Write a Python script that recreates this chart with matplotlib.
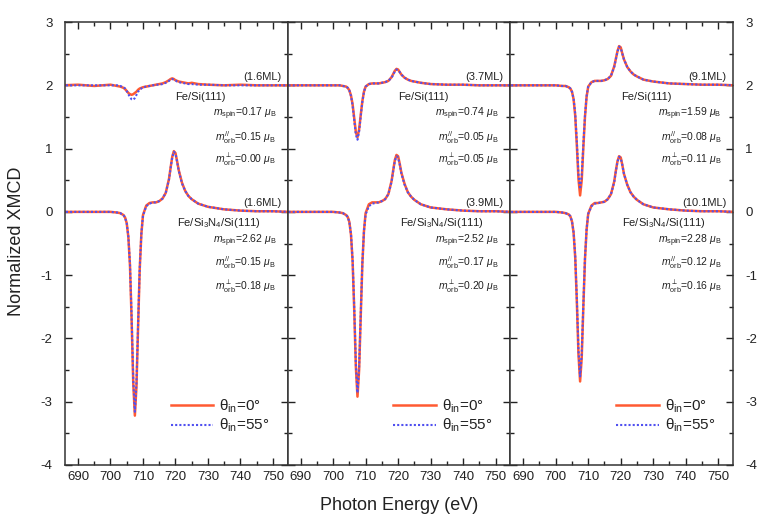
import matplotlib
matplotlib.use("Agg")
import matplotlib.pyplot as plt
from matplotlib.ticker import MultipleLocator

plt.rcParams['font.family'] = ['Liberation Sans Narrow', 'Liberation Sans', 'DejaVu Sans']
plt.rcParams['mathtext.fontset'] = 'custom'
plt.rcParams['mathtext.rm'] = 'Liberation Sans'
plt.rcParams['mathtext.it'] = 'Liberation Sans:italic'
plt.rcParams['axes.unicode_minus'] = False

# Photon energy grid (eV)
energy = [685, 690, 695, 700, 702, 703, 704, 704.5, 705, 705.5, 706, 706.5, 707, 707.5,
          708, 708.5, 709, 709.5, 710, 711, 712, 713, 714, 715, 716, 717, 718, 718.5,
          719, 719.5, 720, 720.5, 721, 722, 723, 724, 725, 727, 730, 735, 740, 745, 750, 755]

# Fe/Si(111) spectra (plotted with +2 offset)
top1_0 = [0, 0.01, -0.01, 0.01, -0.01, -0.02, -0.04, -0.06, -0.09, -0.12, -0.14, -0.15, -0.14, -0.12,
          -0.10, -0.07, -0.05, -0.04, -0.03, -0.02, -0.01, 0.0, 0.01, 0.02, 0.03, 0.05, 0.08, 0.10,
          0.11, 0.10, 0.08, 0.07, 0.06, 0.05, 0.04, 0.03, 0.04, 0.02, 0.01, 0.0, 0.01, 0.0, 0.0, 0.0]
top1_55 = [0, 0, 0, 0, 0, -0.01, -0.03, -0.05, -0.09, -0.14, -0.19, -0.22, -0.23, -0.20,
           -0.15, -0.10, -0.07, -0.05, -0.03, -0.02, -0.01, 0, 0.01, 0.01, 0.02, 0.04, 0.07, 0.09,
           0.10, 0.09, 0.08, 0.06, 0.05, 0.04, 0.03, 0.02, 0.02, 0.01, 0.01, 0, 0, 0, 0, 0]
top2_0 = [0, 0, 0, 0, 0, -0.01, -0.02, -0.04, -0.08, -0.16, -0.30, -0.52, -0.74, -0.82,
          -0.70, -0.47, -0.25, -0.10, -0.02, 0.02, 0.03, 0.03, 0.03, 0.04, 0.05, 0.07, 0.13, 0.18,
          0.23, 0.26, 0.25, 0.21, 0.17, 0.12, 0.09, 0.07, 0.06, 0.04, 0.02, 0.01, 0.01, 0, 0, 0]
top2_55 = [0, 0, 0, 0, 0, -0.01, -0.02, -0.04, -0.08, -0.17, -0.32, -0.55, -0.78, -0.86,
           -0.73, -0.49, -0.26, -0.10, -0.02, 0.02, 0.03, 0.03, 0.03, 0.04, 0.05, 0.07, 0.12, 0.17,
           0.22, 0.25, 0.24, 0.21, 0.17, 0.12, 0.09, 0.07, 0.06, 0.04, 0.02, 0.01, 0.01, 0, 0, 0]
top3_0 = [0, 0, 0, 0, -0.01, -0.01, -0.03, -0.05, -0.10, -0.22, -0.48, -0.95, -1.48, -1.74,
          -1.50, -0.98, -0.50, -0.18, -0.02, 0.05, 0.07, 0.07, 0.07, 0.08, 0.10, 0.15, 0.30, 0.42,
          0.54, 0.62, 0.60, 0.50, 0.41, 0.29, 0.22, 0.17, 0.14, 0.09, 0.06, 0.03, 0.02, 0.01, 0.01, 0]
top3_55 = [0, 0, 0, 0, -0.01, -0.01, -0.03, -0.05, -0.10, -0.21, -0.45, -0.90, -1.40, -1.64,
           -1.42, -0.93, -0.48, -0.17, -0.02, 0.05, 0.07, 0.07, 0.07, 0.08, 0.10, 0.15, 0.29, 0.41,
           0.53, 0.61, 0.59, 0.50, 0.41, 0.29, 0.22, 0.17, 0.14, 0.09, 0.06, 0.03, 0.02, 0.01, 0.01, 0]

# Fe/Si3N4/Si(111) spectra
bot1_0 = [0, 0, 0, 0, -0.01, -0.02, -0.05, -0.09, -0.18, -0.40, -0.85, -1.70, -2.70, -3.22,
          -2.75, -1.80, -0.90, -0.35, -0.05, 0.10, 0.14, 0.15, 0.15, 0.17, 0.21, 0.30, 0.52, 0.70,
          0.87, 0.96, 0.93, 0.80, 0.66, 0.46, 0.33, 0.25, 0.20, 0.13, 0.08, 0.04, 0.02, 0.01, 0.01, 0]
bot1_55 = [0, 0, 0, 0, -0.01, -0.02, -0.05, -0.09, -0.18, -0.39, -0.83, -1.66, -2.64, -3.16,
           -2.70, -1.77, -0.88, -0.34, -0.06, 0.09, 0.13, 0.15, 0.15, 0.17, 0.21, 0.30, 0.51, 0.69,
           0.86, 0.95, 0.92, 0.79, 0.65, 0.45, 0.33, 0.25, 0.20, 0.13, 0.08, 0.04, 0.02, 0.01, 0.01, 0]
bot2_0 = [0, 0, 0, 0, -0.01, -0.02, -0.05, -0.08, -0.16, -0.36, -0.78, -1.55, -2.45, -2.92,
          -2.50, -1.65, -0.82, -0.30, -0.02, 0.12, 0.15, 0.15, 0.15, 0.17, 0.20, 0.28, 0.49, 0.66,
          0.82, 0.90, 0.88, 0.76, 0.62, 0.44, 0.31, 0.24, 0.19, 0.12, 0.07, 0.04, 0.02, 0.01, 0.01, 0]
bot2_55 = [0, 0, 0, 0, -0.01, -0.02, -0.05, -0.08, -0.16, -0.35, -0.76, -1.50, -2.40, -2.86,
           -2.46, -1.62, -0.80, -0.30, -0.04, 0.09, 0.13, 0.14, 0.15, 0.17, 0.20, 0.28, 0.48, 0.65,
           0.80, 0.88, 0.86, 0.75, 0.61, 0.43, 0.31, 0.24, 0.19, 0.12, 0.07, 0.04, 0.02, 0.01, 0.01, 0]
bot3_0 = [0, 0, 0, 0, -0.01, -0.02, -0.04, -0.07, -0.15, -0.33, -0.72, -1.42, -2.25, -2.68,
          -2.30, -1.50, -0.75, -0.28, -0.03, 0.10, 0.14, 0.14, 0.15, 0.16, 0.20, 0.28, 0.48, 0.65,
          0.80, 0.88, 0.86, 0.74, 0.60, 0.43, 0.31, 0.24, 0.19, 0.12, 0.07, 0.04, 0.02, 0.01, 0.01, 0]
bot3_55 = [0, 0, 0, 0, -0.01, -0.02, -0.04, -0.07, -0.15, -0.32, -0.70, -1.38, -2.18, -2.60,
           -2.24, -1.46, -0.73, -0.27, -0.03, 0.09, 0.13, 0.14, 0.15, 0.16, 0.20, 0.28, 0.47, 0.64,
           0.79, 0.87, 0.85, 0.74, 0.60, 0.43, 0.31, 0.24, 0.19, 0.12, 0.07, 0.04, 0.02, 0.01, 0.01, 0]

top_thick = ['(1.6ML)', '(3.7ML)', '(9.1ML)']
bot_thick = ['(1.6ML)', '(3.9ML)', '(10.1ML)']
top_spin = ['0.17', '0.74', '1.59']
top_orb_par = ['0.15', '0.05', '0.08']
top_orb_perp = ['0.00', '0.05', '0.11']
bot_spin = ['2.62', '2.52', '2.28']
bot_orb_par = ['0.15', '0.17', '0.12']
bot_orb_perp = ['0.18', '0.20', '0.16']
xticks = [690, 700, 710, 720, 730, 740, 750]
yticks = [-4, -3, -2, -1, 0, 1, 2, 3]

top_0 = [top1_0, top2_0, top3_0]
top_55 = [top1_55, top2_55, top3_55]
bot_0 = [bot1_0, bot2_0, bot3_0]
bot_55 = [bot1_55, bot2_55, bot3_55]
OFFSET = 2

RED = '#ff5a32'
BLUE = '#5050f0'
TXT = '#222222'

fig, axes = plt.subplots(1, 3, figsize=(7.61, 5.25), dpi=100, sharey=True)
fig.subplots_adjust(left=0.0854, right=0.963, top=0.958, bottom=0.1143, wspace=0)

for i, ax in enumerate(axes):
    ax.plot(energy, [v + OFFSET for v in top_0[i]], color=RED, lw=1.8)
    ax.plot(energy, [v + OFFSET for v in top_55[i]], color=BLUE, lw=1.5, ls=(0, (1, 1)))
    l0, = ax.plot(energy, bot_0[i], color=RED, lw=1.8, label='θ$_{\\rm in}$=0°')
    l55, = ax.plot(energy, bot_55[i], color=BLUE, lw=1.5, ls=(0, (1, 1)), label='θ$_{\\rm in}$=55°')

    ax.set_xlim(686, 754.5)
    ax.set_ylim(-4, 3)
    ax.set_xticks(xticks)
    ax.set_yticks(yticks)
    ax.xaxis.set_minor_locator(MultipleLocator(5))
    ax.yaxis.set_minor_locator(MultipleLocator(0.5))
    ax.tick_params(which='both', direction='in', top=True, bottom=True, left=True, right=True,
                   labelsize=9.5, colors='#222222', width=1.0)
    ax.tick_params(which='major', length=5)
    ax.tick_params(which='minor', length=3)
    ax.tick_params(axis='x', pad=4)
    ax.tick_params(axis='y', pad=9)
    for s in ax.spines.values():
        s.set_linewidth(1.1)
        s.set_color('#333333')
    if i == 0:
        ax.tick_params(axis='y', labelleft=True, labelright=False)
    elif i == 2:
        ax.tick_params(axis='y', labelleft=False, labelright=True)
    else:
        ax.tick_params(axis='y', labelleft=False, labelright=False)

    # annotations upper
    ax.text(752.5, 2.05, top_thick[i], ha='right', va='bottom', fontsize=8, color=TXT)
    ax.text(720.0, 1.82, 'Fe/Si(111)', ha='left', va='center', fontsize=8, color=TXT)
    ax.text(751, 1.55, r'$m_{\rm spin}$=' + top_spin[i] + r' $\mu_{\rm B}$', ha='right', va='center', fontsize=7.5, color=TXT)
    ax.text(751, 1.18, r'$m_{\rm orb}^{//}$=' + top_orb_par[i] + r' $\mu_{\rm B}$', ha='right', va='center', fontsize=7.5, color=TXT)
    ax.text(751, 0.82, r'$m_{\rm orb}^{\perp}$=' + top_orb_perp[i] + r' $\mu_{\rm B}$', ha='right', va='center', fontsize=7.5, color=TXT)
    # annotations lower
    ax.text(752.5, 0.06, bot_thick[i], ha='right', va='bottom', fontsize=8, color=TXT)
    ax.text(720.5, -0.17, r'Fe/Si$_3$N$_4$/Si(111)', ha='left', va='center', fontsize=8, color=TXT)
    ax.text(751, -0.46, r'$m_{\rm spin}$=' + bot_spin[i] + r' $\mu_{\rm B}$', ha='right', va='center', fontsize=7.5, color=TXT)
    ax.text(751, -0.80, r'$m_{\rm orb}^{//}$=' + bot_orb_par[i] + r' $\mu_{\rm B}$', ha='right', va='center', fontsize=7.5, color=TXT)
    ax.text(751, -1.18, r'$m_{\rm orb}^{\perp}$=' + bot_orb_perp[i] + r' $\mu_{\rm B}$', ha='right', va='center', fontsize=7.5, color=TXT)

    ax.legend(handles=[l0, l55], loc='upper left', bbox_to_anchor=(0.44, 0.17), frameon=False,
              fontsize=11, handlelength=2.8, handletextpad=0.4, labelspacing=0.15, borderpad=0,
              labelcolor=TXT)

fig.text(0.525, 0.038, 'Photon Energy (eV)', ha='center', va='center', fontsize=13, color=TXT,
         family=['Liberation Sans', 'DejaVu Sans'])
fig.text(0.022, 0.54, 'Normalized XMCD', ha='center', va='center', rotation=90, fontsize=13, color=TXT,
         family=['Liberation Sans', 'DejaVu Sans'])

fig.savefig('out.png', dpi=100)
